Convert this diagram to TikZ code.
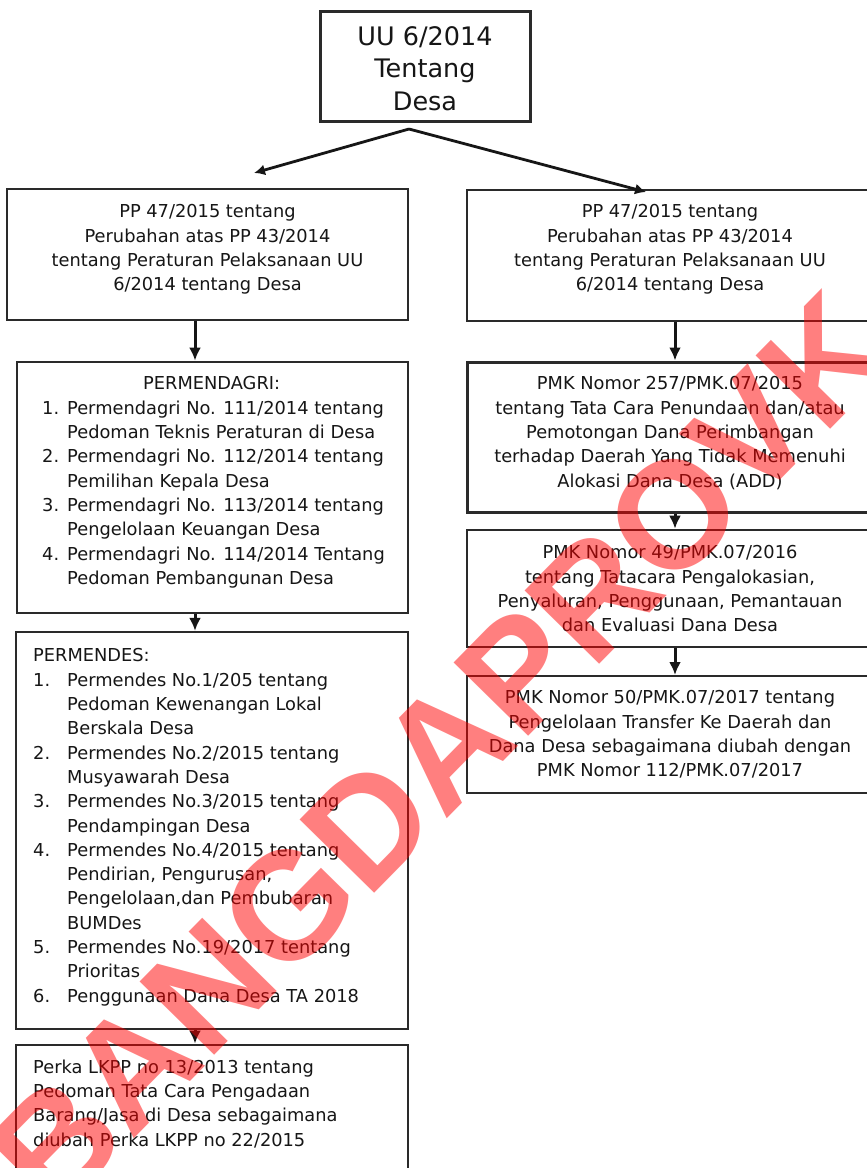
\documentclass[tikz,border=0pt]{standalone}
\usepackage{fontspec}
\setmainfont{DejaVu Sans}
\newfontfamily\wmfont{Liberation Sans}
\usetikzlibrary{arrows.meta}
\definecolor{ink}{HTML}{161616}
\definecolor{edge}{HTML}{2A2A2A}
\newcommand{\nb}[2]{\makebox[#1][l]{#2}}
\begin{document}
\begin{tikzpicture}[x=1pt,y=-1pt,
  box/.style={draw=edge, line width=#1, inner sep=0pt},
  box/.default=2pt,
  txt/.style={text=ink, inner sep=0pt, font=\fontsize{17.8}{24.3}\selectfont},
  arr/.style={draw=ink, line width=3pt, -{Latex[length=13pt,width=12pt]}},
  wm/.style={text=red, opacity=0.5, inner sep=0pt, font=\wmfont\bfseries\fontsize{152}{152}\selectfont}]
\useasboundingbox (0,0) rectangle (867,1168);
\clip (0,0) rectangle (867,1168);
\fill[white] (0,0) rectangle (867,1168);

% boxes
\node[box=3pt, minimum width=210pt, minimum height=110pt] (T) at (425,66) {};
\node[box=1.8pt, minimum width=401pt, minimum height=131pt] (L1) at (207.5,254.5) {};
\node[box=2.8pt, minimum width=391pt, minimum height=251pt] (L2) at (212.5,487.5) {};
\node[box=2.3pt, minimum width=392pt, minimum height=397pt] (L3) at (212,830.5) {};
\node[box=2.8pt, minimum width=392pt, minimum height=160pt] (L4) at (212,1125) {};
\node[box=2pt, minimum width=406pt, minimum height=131pt] (R1) at (670,255.5) {};
\node[box=3pt, minimum width=406pt, minimum height=150pt] (R2) at (670,437) {};
\node[box=2.6pt, minimum width=406pt, minimum height=117pt] (R3) at (670,588.5) {};
\node[box=2pt, minimum width=406pt, minimum height=117pt] (R4) at (670,734.5) {};

% texts
\node[txt, anchor=north, align=center, font=\fontsize{25.5}{32.5}\selectfont] (Tt) at (425,26)
  {UU 6/2014\\Tentang\\Desa};
\node[txt, anchor=north, align=center] (L1t) at (207.5,204.5)
  {PP 47/2015 tentang\\Perubahan atas PP 43/2014\\tentang Peraturan Pelaksanaan UU\\6/2014 tentang Desa};
\node[txt, anchor=north, align=center] (R1t) at (670,204.5)
  {PP 47/2015 tentang\\Perubahan atas PP 43/2014\\tentang Peraturan Pelaksanaan UU\\6/2014 tentang Desa};
\node[txt, anchor=north west, align=left] (L2t) at (42,376.5)
  {\hspace*{101pt}PERMENDAGRI:\\
   \nb{25pt}{1.}Permendagri No. 111/2014 tentang\\
   \hspace*{25pt}Pedoman Teknis Peraturan di Desa\\
   \nb{25pt}{2.}Permendagri No. 112/2014 tentang\\
   \hspace*{25pt}Pemilihan Kepala Desa\\
   \nb{25pt}{3.}Permendagri No. 113/2014 tentang\\
   \hspace*{25pt}Pengelolaan Keuangan Desa\\
   \nb{25pt}{4.}Permendagri No. 114/2014 Tentang\\
   \hspace*{25pt}Pedoman Pembangunan Desa};
\node[txt, anchor=north west, align=left] (L3t) at (33,648.5)
  {PERMENDES:\\
   \nb{34pt}{1.}Permendes No.1/205 tentang\\
   \hspace*{34pt}Pedoman Kewenangan Lokal\\
   \hspace*{34pt}Berskala Desa\\
   \nb{34pt}{2.}Permendes No.2/2015 tentang\\
   \hspace*{34pt}Musyawarah Desa\\
   \nb{34pt}{3.}Permendes No.3/2015 tentang\\
   \hspace*{34pt}Pendampingan Desa\\
   \nb{34pt}{4.}Permendes No.4/2015 tentang\\
   \hspace*{34pt}Pendirian, Pengurusan,\\
   \hspace*{34pt}Pengelolaan,dan Pembubaran\\
   \hspace*{34pt}BUMDes\\
   \nb{34pt}{5.}Permendes No.19/2017 tentang\\
   \hspace*{34pt}Prioritas\\
   \nb{34pt}{6.}Penggunaan Dana Desa TA 2018};
\node[txt, anchor=north west, align=left] (L4t) at (33,1059.5)
  {Perka LKPP no 13/2013 tentang\\Pedoman Tata Cara Pengadaan\\Barang/Jasa di Desa sebagaimana\\diubah Perka LKPP no 22/2015};
\node[txt, anchor=north, align=center] (R2t) at (670,376.5)
  {PMK Nomor 257/PMK.07/2015\\tentang Tata Cara Penundaan dan/atau\\Pemotongan Dana Perimbangan\\terhadap Daerah Yang Tidak Memenuhi\\Alokasi Dana Desa (ADD)};
\node[txt, anchor=north, align=center] (R3t) at (670,545.5)
  {PMK Nomor 49/PMK.07/2016\\tentang Tatacara Pengalokasian,\\Penyaluran, Penggunaan, Pemantauan\\dan Evaluasi Dana Desa};
\node[txt, anchor=north, align=center] (R4t) at (670,690.5)
  {PMK Nomor 50/PMK.07/2017 tentang\\Pengelolaan Transfer Ke Daerah dan\\Dana Desa sebagaimana diubah dengan\\PMK Nomor 112/PMK.07/2017};

% connectors
\coordinate (split) at (409,129);
\coordinate (tipL) at (254,173);
\coordinate (tipR) at (646,192);
\coordinate (xL) at (195,0);
\coordinate (xR) at (675,0);
\draw[arr, line width=2.8pt, -{Latex[length=11pt,width=11pt]}] (split) -- (tipL);
\draw[arr, line width=2.8pt, -{Latex[length=11pt,width=11pt]}] (split) -- (tipR);
\draw[arr] (L1.south -| xL) -- (L2.north -| xL);
\draw[arr] (L2.south -| xL) -- (L3.north -| xL);
\draw[arr] (L3.south -| xL) -- (L4.north -| xL);
\draw[arr] (R1.south -| xR) -- (R2.north -| xR);
\draw[arr] (R2.south -| xR) -- (R3.north -| xR);
\draw[arr] (R3.south -| xR) -- (R4.north -| xR);

% watermark
\node[wm, rotate=45.5] (wm) at (440,752) {BANGDAPROVK};
\end{tikzpicture}
\end{document}
